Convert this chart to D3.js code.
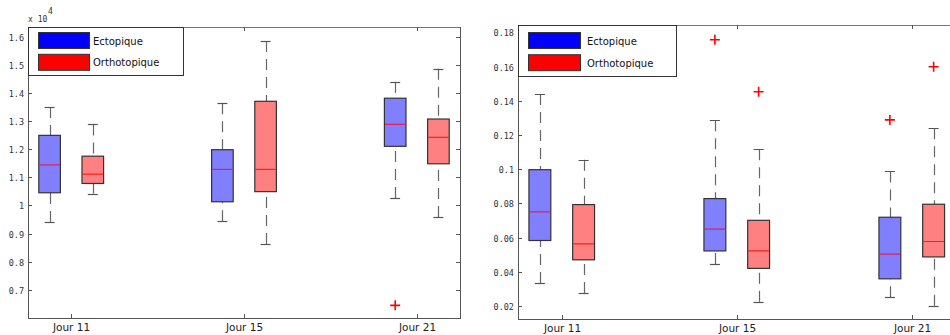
<!DOCTYPE html>
<html><head><meta charset="utf-8">
<script src="https://cdn.jsdelivr.net/npm/d3@7"></script>
<style>body{margin:0;background:#fff}svg{display:block}</style>
</head><body>
<svg id="c" width="950" height="335"></svg>
<script>
const categories = ["Jour 11", "Jour 15", "Jour 21"];
const seriesNames = ["Ectopique", "Orthotopique"];
// stats: [lower whisker, q1, median, q3, upper whisker]
const leftEcto = [[0.941,1.045,1.144,1.249,1.350],[0.944,1.013,1.128,1.198,1.363],[1.026,1.210,1.288,1.381,1.439]];
const leftOrtho = [[1.042,1.078,1.111,1.175,1.288],[0.863,1.049,1.128,1.370,1.584],[0.959,1.148,1.242,1.307,1.486]];
const leftEctoOut = [[],[],[0.645]];
const leftOrthoOut = [[],[],[]];
const leftTicks = [0.7,0.8,0.9,1.0,1.1,1.2,1.3,1.4,1.5,1.6];
const rightEcto = [[0.0334,0.0583,0.0750,0.0997,0.1440],[0.0445,0.0522,0.0649,0.0828,0.1286],[0.0251,0.0359,0.0503,0.0719,0.0987]];
const rightOrtho = [[0.0276,0.0470,0.0563,0.0793,0.1055],[0.0225,0.0420,0.0522,0.0701,0.1117],[0.0202,0.0487,0.0577,0.0795,0.1239]];
const rightEctoOut = [[],[0.1757],[0.1288]];
const rightOrthoOut = [[],[0.1453],[0.1599]];
const rightTicks = [0.02,0.04,0.06,0.08,0.10,0.12,0.14,0.16,0.18];

const svg = d3.select("#c");
const fills = ["#8080ff", "#ff8080"];
const legendFills = ["#0000ff", "#ff0000"];
const medianCols = ["#e0205a", "#f42020"];

function fmt(v){ return String(+v.toFixed(4)); }

function panel(o){
  const x = d3.scaleLinear().domain([0.75,3.25]).range([o.x0,o.x1]);
  const y = d3.scaleLinear().domain(o.ydom).range([o.y1,o.y0]);
  const g = svg.append("g");
  const clip = "clip"+o.id;
  svg.append("clipPath").attr("id",clip).append("rect").attr("x",o.x0).attr("y",o.y0-2).attr("width",o.x1-o.x0).attr("height",o.y1-o.y0+4);
  // frame
  g.append("line").attr("x1",o.x0).attr("x2",Math.min(o.x1,950)).attr("y1",o.y0+0.5).attr("y2",o.y0+0.5).attr("stroke","#777");
  g.append("line").attr("x1",o.x0).attr("x2",Math.min(o.x1,950)).attr("y1",o.y1+0.5).attr("y2",o.y1+0.5).attr("stroke","#555");
  g.append("line").attr("x1",o.x0+0.5).attr("x2",o.x0+0.5).attr("y1",o.y0).attr("y2",o.y1+1).attr("stroke","#555");
  if (o.x1 < 950) g.append("line").attr("x1",o.x1+0.5).attr("x2",o.x1+0.5).attr("y1",o.y0).attr("y2",o.y1+1).attr("stroke","#555");
  // y ticks
  o.ticks.forEach(t=>{
    const yy = Math.round(y(t))+0.5;
    g.append("line").attr("x1",o.x0).attr("x2",o.x0+4).attr("y1",yy).attr("y2",yy).attr("stroke","#555");
    if (o.x1 < 950) g.append("line").attr("x1",o.x1-4).attr("x2",o.x1).attr("y1",yy).attr("y2",yy).attr("stroke","#555");
    g.append("text").attr("x",o.x0-4).attr("y",yy+3).attr("text-anchor","end")
      .attr("font-family","DejaVu Sans Mono").attr("font-size","8.5px").attr("fill","#333").text(fmt(t));
  });
  // x ticks
  categories.forEach((c,i)=>{
    const xx = Math.round(x(i+1))+0.5;
    g.append("line").attr("x1",xx).attr("x2",xx).attr("y1",o.y1-4).attr("y2",o.y1).attr("stroke","#555");
    g.append("line").attr("x1",xx).attr("x2",xx).attr("y1",o.y0).attr("y2",o.y0+4).attr("stroke","#555");
    g.append("text").attr("x",xx).attr("y",o.y1+13).attr("text-anchor","middle")
      .attr("font-family","DejaVu Sans").attr("font-size","10.5px").attr("fill","#222").text(c);
  });
  // boxes
  const bw = x(0.875)-x(0.75);
  const capW = bw*0.46;
  const bg = g.append("g").attr("clip-path","url(#"+clip+")");
  [o.ecto,o.ortho].forEach((ser,s)=>{
    ser.forEach((st,i)=>{
      const cx = x(i+1 + (s===0?-0.125:0.125));
      const [lw,q1,md,q3,uw] = st;
      const cxr = Math.round(cx)+0.5;
      bg.append("line").attr("x1",cxr).attr("x2",cxr).attr("y1",y(uw)).attr("y2",y(q3))
        .attr("stroke","#666").attr("stroke-width",1.2).attr("stroke-dasharray","11,7");
      bg.append("line").attr("x1",cxr).attr("x2",cxr).attr("y1",y(lw)).attr("y2",y(q1))
        .attr("stroke","#666").attr("stroke-width",1.2).attr("stroke-dasharray","11,7");
      [lw,uw].forEach(v=>{
        bg.append("line").attr("x1",cx-capW/2).attr("x2",cx+capW/2).attr("y1",Math.round(y(v))+0.5).attr("y2",Math.round(y(v))+0.5)
          .attr("stroke","#555").attr("stroke-width",1.2);
      });
      bg.append("rect").attr("x",cx-bw/2).attr("y",y(q3)).attr("width",bw).attr("height",y(q1)-y(q3))
        .attr("fill",fills[s]).attr("stroke","#333").attr("stroke-width",1.2);
      bg.append("line").attr("x1",cx-bw/2+0.6).attr("x2",cx+bw/2-0.6).attr("y1",y(md)).attr("y2",y(md))
        .attr("stroke",medianCols[s]).attr("stroke-width",1.2);
    });
  });
  [o.ectoOut,o.orthoOut].forEach((ser,s)=>{
    ser.forEach((arr,i)=>{
      const cx = x(i+1 + (s===0?-0.125:0.125));
      arr.forEach(v=>{
        const yy = y(v);
        bg.append("path").attr("d",`M${cx-5},${yy}H${cx+5}M${cx},${yy-5}V${yy+5}`)
          .attr("stroke","#ff0000").attr("stroke-width",1.6).attr("fill","none");
      });
    });
  });
  // legend
  const lg = g.append("g");
  lg.append("rect").attr("x",o.x0+0.5).attr("y",o.y0+0.5).attr("width",o.legW).attr("height",o.legH)
    .attr("fill","#fff").attr("stroke","#333");
  seriesNames.forEach((n,k)=>{
    const yy = o.y0 + o.legPad + k*o.legStep;
    lg.append("rect").attr("x",o.x0+10.5).attr("y",yy).attr("width",o.swW).attr("height",16)
      .attr("fill",legendFills[k]).attr("stroke","#333");
    lg.append("text").attr("x",o.x0+o.txtOff).attr("y",yy+12).attr("font-family","DejaVu Sans")
      .attr("font-size","10px").attr("fill","#111").text(n);
  });
}

panel({id:"L", x0:28, x1:460, y0:27, y1:318, ydom:[0.6,1.634], ticks:leftTicks,
  ecto:leftEcto, ortho:leftOrtho, ectoOut:leftEctoOut, orthoOut:leftOrthoOut, legW:155, legH:48,
  legPad:5.5, legStep:21.8, swW:51, txtOff:65});
panel({id:"R", x0:518, x1:955.5, y0:25, y1:319, ydom:[0.0124,0.1843], ticks:rightTicks,
  ecto:rightEcto, ortho:rightOrtho, ectoOut:rightEctoOut, orthoOut:rightOrthoOut, legW:158, legH:51,
  legPad:7.5, legStep:22.2, swW:52, txtOff:69});

svg.append("text").attr("x",28).attr("y",22).attr("font-family","DejaVu Sans Mono").attr("font-size","8px").attr("fill","#333").text("x 10");
svg.append("text").attr("x",48).attr("y",14).attr("font-family","DejaVu Sans Mono").attr("font-size","8px").attr("fill","#333").text("4");
</script>
</body></html>
